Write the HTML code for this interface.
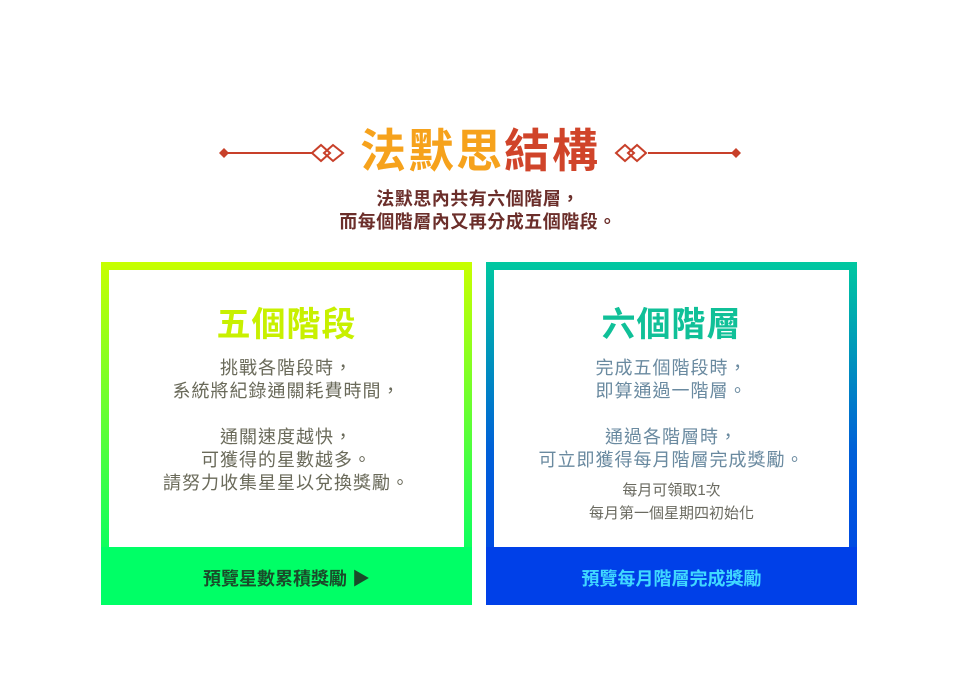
<!DOCTYPE html>
<html><head><meta charset="utf-8"><style>
body{margin:0;width:956px;height:677px;background:#fff;position:relative;overflow:hidden;font-family:"Liberation Sans","Noto Sans CJK TC",sans-serif}
.a{position:absolute}
.t{position:absolute;left:0;width:100%;text-align:center;white-space:nowrap}
.card{position:absolute;top:262px;width:371px;height:343px}
.inner{position:absolute;left:8px;top:8px;width:355px;height:277px;background:#fff}
.foot{position:absolute;left:0;top:285px;width:371px;height:58px}
</style></head><body>
<svg class="a" style="left:0;top:0" width="956" height="200">
 <g stroke="#c8402a" stroke-width="2" fill="none">
  <line x1="224" y1="153" x2="312" y2="153"/>
  <path d="M312 153 L321 145 L330 153 L321 161 Z"/>
  <path d="M324 153 L333 145 L343 153 L333 161 Z"/>
  <line x1="648" y1="153" x2="736" y2="153"/>
  <path d="M616 153 L625 145 L634 153 L625 161 Z"/>
  <path d="M628 153 L637 145 L646 153 L637 161 Z"/>
 </g>
 <path d="M219 153 L224 148 L229 153 L224 158 Z" fill="#c8402a"/>
 <path d="M731 153 L736 148 L741 153 L736 158 Z" fill="#c8402a"/>
</svg>
<div class="t" style="top:124px;font-size:46px;font-weight:bold;line-height:54px;left:2px;letter-spacing:2px"><span style="color:#f6a21c">法默思</span><span style="color:#d0442a">結構</span></div>
<div class="t" style="top:188px;font-size:18px;font-weight:bold;color:#6b2e2a;line-height:23px;letter-spacing:0.5px">法默思內共有六個階層，<br>而每個階層內又再分成五個階段。</div>

<div class="card" style="left:101px;background:linear-gradient(#c8ff00,#00ff66 90%)">
 <div class="inner">
  <div class="t" style="top:27px;font-size:34px;font-weight:bold;color:#c8f000;letter-spacing:1px">五個階段</div>
  <div class="t" style="top:87px;font-size:18px;color:#6a6a5a;line-height:23px;letter-spacing:1px">挑戰各階段時，<br>系統將紀錄通關耗費時間，<br><br>通關速度越快，<br>可獲得的星數越多。<br>請努力收集星星以兌換獎勵。</div>
 </div>
 <div class="foot" style="background:#00ff66"><div class="t" style="top:18px;font-size:18px;font-weight:bold;color:#1a4a2a">預覽星數累積獎勵 ▶</div></div>
</div>

<div class="card" style="left:486px;background:linear-gradient(#00c8a0,#0060d8 55%,#0040e8)">
 <div class="inner">
  <div class="t" style="top:27px;font-size:34px;font-weight:bold;color:#10c098;letter-spacing:1px">六個階層</div>
  <div class="t" style="top:87px;font-size:18px;color:#6a8aa0;line-height:23px;letter-spacing:1px">完成五個階段時，<br>即算通過一階層。<br><br>通過各階層時，<br>可立即獲得每月階層完成獎勵。</div>
  <div class="t" style="top:209px;font-size:15px;color:#6a6a60;line-height:23px">每月可領取1次<br>每月第一個星期四初始化</div>
 </div>
 <div class="foot" style="background:#0040e8"><div class="t" style="top:18px;font-size:18px;font-weight:bold;color:#40d8ff">預覽每月階層完成獎勵</div></div>
</div>
</body></html>
